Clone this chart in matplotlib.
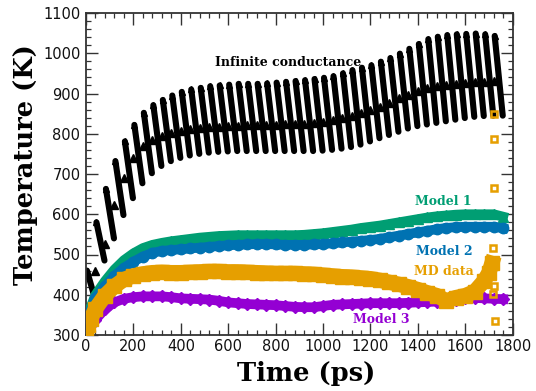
import numpy as np
import matplotlib
matplotlib.use("Agg")
import matplotlib.pyplot as plt
from matplotlib.ticker import MultipleLocator

# ---------------- data ----------------
# Infinite conductance: one saw-tooth per 40 ps heating cycle
ic_t = np.arange(0, 1721, 40)
ic_peak = [465, 585, 668, 737, 786, 827, 857, 876, 889, 900,
           909, 915, 919, 923, 925, 927, 929, 929, 929, 930,
           932, 934, 936, 938, 941, 944, 948, 955, 963, 969,
           975, 984, 993, 1004, 1016, 1028, 1040, 1046, 1050, 1052,
           1053, 1054, 1052, 1048]
ic_trough = [385, 480, 535, 593, 635, 672, 697, 715, 727, 735,
             741, 745, 748, 750, 751, 752, 752, 752, 752, 752,
             752, 752, 752, 752, 753, 755, 758, 762, 768, 776,
             784, 792, 800, 808, 814, 818, 822, 826, 830, 834,
             837, 839, 840, 840]
ic_mid = [355, 459, 525, 623, 690, 740, 770, 785, 795, 802,
          807, 811, 814, 816, 818, 819, 820, 821, 822, 822,
          822, 823, 823, 824, 826, 829, 834, 839, 845, 852,
          859, 867, 876, 888, 896, 905, 913, 918, 921, 924,
          926, 928, 929, 930]

t_model = [0, 10, 20] + list(range(40, 1761, 40))
model1 = [305, 345, 370,
          400, 434, 463, 486, 503, 516, 524, 529, 533, 536,
          539, 542, 544, 546, 547,
          548, 548, 548, 548, 548,
          548, 548, 549, 551, 553,
          556, 559, 562, 566, 569,
          572, 576, 580, 584, 588,
          592, 595, 597, 599, 600,
          600, 600, 600, 594]
model2 = [305, 340, 362,
          393, 421, 447, 467, 482, 495, 504, 509, 511, 513,
          515, 517, 519, 521, 523,
          524, 525, 526, 526, 525,
          524, 524, 524, 525, 526,
          528, 530, 532, 534, 536,
          539, 543, 547, 551, 555,
          559, 563, 566, 568, 569,
          569, 569, 569, 565]
model3 = [300, 315, 325,
          338, 364, 381, 390, 394, 396, 396, 396, 394, 391,
          390, 389, 388, 385, 381,
          379, 377, 376, 375, 374,
          372, 370, 369, 369, 372,
          375, 376, 377, 378, 379,
          379, 379, 379, 380, 381,
          382, 383, 385, 388, 391,
          392, 391, 390, 389]

t_md = [0, 10, 20] + list(range(40, 1681, 40)) + [1700, 1712]
md = [300, 325, 340,
      365, 398, 421, 438, 447, 452, 455, 456, 455, 455,
      456, 457, 458, 458, 457,
      457, 456, 455, 454, 453,
      453, 453, 452, 451, 449,
      447, 445, 444, 442, 440,
      436, 431, 426, 420, 413,
      405, 398, 385, 393, 398,
      408, 435, 455, 478]

md_out_t = [1722, 1722, 1722, 1719, 1719, 1722, 1719, 1726]
md_out_T = [849, 787, 666, 517, 476, 422, 401, 335]

# ---------------- style ----------------
C_GREEN = "#009E73"
C_BLUE = "#0072B2"
C_ORANGE = "#E69F00"
C_PURPLE = "#9400D3"
AX_COL = "#333333"

fig = plt.figure(figsize=(5.36, 3.91), dpi=100)
W, H = 536.0, 391.0
ax = fig.add_axes([86 / W, 1 - 335 / H, (512.7 - 86) / W, (335 - 13) / H])

# saw teeth
xs, ys = [], []
for t0, p, tr in zip(ic_t, ic_peak, ic_trough):
    xs += [t0 + 4, t0 + 38, np.nan]
    ys += [p - 5, tr + 5, np.nan]
ax.plot(xs, ys, color="black", lw=4.4, solid_capstyle="round", zorder=2)
ax.plot(ic_t + 4, np.array(ic_peak) - 5, "^", color="black", ms=5, zorder=2)
ax.plot(ic_t, ic_mid, "^", color="black", ms=5.5, zorder=2)

# models
ax.plot(t_model, model1, "-^", color=C_GREEN, lw=7, ms=7.5, zorder=3)
ax.plot(t_model, model2, "-o", color=C_BLUE, lw=7, ms=7.5, zorder=4)
ax.plot(t_model, model3, "-D", color=C_PURPLE, lw=7, ms=6, zorder=5)
ax.plot(t_md, md, "-s", color=C_ORANGE, lw=11, ms=10.5, zorder=6)
ax.plot(md_out_t, md_out_T, "s", color=C_ORANGE, mfc="none", mew=1.8, ms=5, zorder=7)

ax.set_xlim(0, 1800)
ax.set_ylim(300, 1100)
ax.xaxis.set_major_locator(MultipleLocator(200))
ax.xaxis.set_minor_locator(MultipleLocator(40))
ax.yaxis.set_major_locator(MultipleLocator(100))
ax.yaxis.set_minor_locator(MultipleLocator(20))
ax.tick_params(which="both", direction="in", top=True, right=True,
               color=AX_COL, labelcolor="#111111", labelsize=10.5)
ax.tick_params(which="major", length=8.5, width=1.0)
ax.tick_params(which="minor", length=3.8, width=0.9)
ax.tick_params(axis="y", pad=4)
ax.tick_params(axis="x", pad=3)
for s in ax.spines.values():
    s.set_color(AX_COL)
    s.set_linewidth(1.3)

serif = dict(family="DejaVu Serif", weight="bold")
ax.text(852, 968, "Infinite conductance", color="black", fontsize=9,
        ha="center", va="baseline", zorder=10, **serif)
ax.text(1506, 623, "Model 1", color=C_GREEN, fontsize=9, ha="center", va="baseline", zorder=10, **serif)
ax.text(1513, 499, "Model 2", color=C_BLUE, fontsize=9, ha="center", va="baseline", zorder=10, **serif)
ax.text(1508, 449, "MD data", color=C_ORANGE, fontsize=9, ha="center", va="baseline", zorder=10, **serif)
ax.text(1247, 330, "Model 3", color=C_PURPLE, fontsize=9, ha="center", va="baseline", zorder=10, **serif)

fig.text(306 / W, 1 - 373 / H, "Time (ps)", fontsize=18.5, ha="center", va="center", **serif)
fig.text(26 / W, 1 - 165 / H, "Temperature (K)", fontsize=18.5, rotation=90,
         ha="center", va="center", **serif)

fig.savefig("out.png", dpi=100)
